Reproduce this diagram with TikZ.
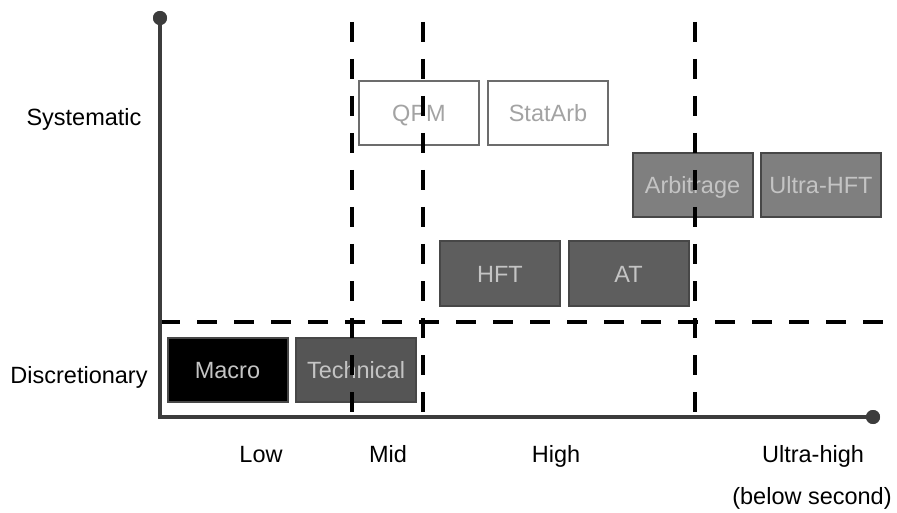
\documentclass[tikz,border=0pt]{standalone}
\usepackage{fontspec}
\setmainfont{Liberation Sans}
\definecolor{axisgray}{HTML}{3C3C3C}
\definecolor{edgegray}{HTML}{474747}
\definecolor{techfill}{HTML}{555555}
\definecolor{hftfill}{HTML}{5E5E5E}
\definecolor{arbfill}{HTML}{7F7F7F}
\definecolor{lighttext}{HTML}{C4C4C4}
\definecolor{paletext}{HTML}{A3A3A3}
\begin{document}
\begin{tikzpicture}[x=1pt,y=-1pt,
  axisline/.style={draw=axisgray,line width=3.6pt},
  axisdot/.style={circle,fill=axisgray,inner sep=0pt,minimum size=14pt},
  divider/.style={draw=black,line width=4.8pt,dash pattern=on 20pt off 17pt},
  txt/.style={font=\fontsize{23.5}{28}\selectfont,text height=17pt,text depth=0pt},
  stratbox/.style={txt,draw=edgegray,line width=2pt,minimum width=120pt,minimum height=64pt,
    inner sep=0pt,text=lighttext},
  axislabel/.style={txt,text=black,inner sep=0pt}]
\useasboundingbox (0,0) rectangle (897,513);

% axes
\coordinate (origin) at (160,417);
\node[axisdot] (ytip) at (160,18) {};
\node[axisdot] (xtip) at (873,417) {};

% strategy boxes
\node[stratbox,fill=white,draw=gray!85!black,text=paletext] (qpm) at (419,113) {QPM};
\node[stratbox,fill=white,draw=gray!85!black,text=paletext] (statarb) at (548,113) {StatArb};
\node[stratbox,fill=arbfill] (arb) at (692.5,185.5) {Arbitrage};
\node[stratbox,fill=arbfill] (uhft) at (821,185.5) {Ultra-HFT};
\node[stratbox,fill=hftfill] (hft) at (500,273.5) {HFT};
\node[stratbox,fill=hftfill] (at) at (628.5,273.5) {AT};
\node[stratbox,fill=black] (macro) at (227.5,369.5) {Macro};
\node[stratbox,fill=techfill] (tech) at (356,369.5) {Technical};

% frequency and style dividers
\coordinate (d1t) at (352,22);  \coordinate (d1b) at (352,417);
\coordinate (d2t) at (423,22);  \coordinate (d2b) at (423,417);
\coordinate (d3t) at (695,22);  \coordinate (d3b) at (695,417);
\coordinate (hl) at (160,322);  \coordinate (hr) at (884,322);
\draw[divider] (d1t) -- (d1b);
\draw[divider] (d2t) -- (d2b);
\draw[divider] (d3t) -- (d3b);
\draw[divider] (hl) -- (hr);

\draw[axisline] (ytip.center) -- (origin) -- (xtip.center);
\node[axisdot] at (ytip) {};
\node[axisdot] at (xtip) {};

% axis labels
\node[axislabel] (sys) at (84,117) {Systematic};
\node[axislabel] (disc) at (79,375) {Discretionary};
\node[axislabel] (low) at (261,454) {Low};
\node[axislabel] (mid) at (388,454) {Mid};
\node[axislabel] (high) at (556,454) {High};
\node[axislabel] (uhigh) at (813,454) {Ultra-high};
\node[axislabel] (below) at (812,496) {(below second)};
\end{tikzpicture}
\end{document}
